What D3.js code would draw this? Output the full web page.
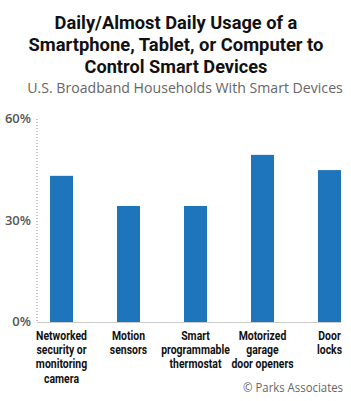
<!DOCTYPE html>
<html>
<head>
<meta charset="utf-8">
<script src="https://cdn.jsdelivr.net/npm/d3@7"></script>
<style>
  body { margin: 0; background: #fff; }
  svg { display: block; }
</style>
</head>
<body>
<div id="chart"></div>
<script>
// chart data
const categories = [
  ["Networked", "security or", "monitoring", "camera"],
  ["Motion", "sensors"],
  ["Smart", "programmable", "thermostat"],
  ["Motorized", "garage", "door openers"],
  ["Door", "locks"]
];
const values = [43.2, 34.3, 34.3, 49.4, 44.9];
const yTicks = [0, 30, 60];
const titleLines = [
  "Daily/Almost Daily Usage of a",
  "Smartphone, Tablet, or Computer to",
  "Control Smart Devices"
];
const subtitle = "U.S. Broadband Households With Smart Devices";
const credit = "\u00A9 Parks Associates";

const width = 351, height = 401;

const svg = d3.select("#chart")
  .append("svg")
  .attr("width", width)
  .attr("height", height);

// squeeze a text horizontally (condensed look) around its anchor point
function squeeze(textSel, cx, cy, k) {
  textSel.attr("x", 0).attr("y", 0)
    .attr("transform", `translate(${cx},${cy}) scale(${k},1)`);
}

// title block
const titleWidths = [243, 295, 183];
titleLines.forEach((t, i) => {
  const txt = svg.append("text")
    .attr("text-anchor", "middle")
    .attr("font-family", "Roboto, sans-serif")
    .attr("font-weight", "bold")
    .attr("font-size", 17.5)
    .attr("fill", "#111")
    .text(t);
  const k = titleWidths[i] / txt.node().getComputedTextLength();
  squeeze(txt, 176, 28.7 + i * 22.05, k);
});

const sub = svg.append("text")
  .attr("text-anchor", "middle")
  .attr("font-family", "'Open Sans', sans-serif")
  .attr("font-size", 14)
  .attr("fill", "#666")
  .text(subtitle);
squeeze(sub, 185, 93, 316 / sub.node().getComputedTextLength());

// scales
const x = d3.scaleBand()
  .domain(d3.range(values.length))
  .range([28, 363])
  .paddingInner(0.657)
  .paddingOuter(0.3285);

const y = d3.scaleLinear()
  .domain([0, 60])
  .range([322, 119]);

// dotted y axis
svg.append("line")
  .attr("x1", 37).attr("x2", 37)
  .attr("y1", y(60)).attr("y2", y(0))
  .attr("stroke", "#888")
  .attr("stroke-width", 1)
  .attr("stroke-dasharray", "1,2");

const yAxis = d3.axisLeft(y).tickValues(yTicks).tickSize(0).tickPadding(6)
  .tickFormat(d => d + "%");

const gy = svg.append("g")
  .attr("transform", "translate(37,0)")
  .call(yAxis);
gy.select(".domain").remove();
gy.selectAll("text")
  .attr("font-family", "'Open Sans', sans-serif")
  .attr("font-weight", "600")
  .attr("font-size", 13)
  .attr("fill", "#555")
  .attr("dy", "0.3em");

// bars
svg.append("g")
  .selectAll("rect")
  .data(values)
  .join("rect")
  .attr("x", (d, i) => x(i))
  .attr("y", d => y(d))
  .attr("width", x.bandwidth())
  .attr("height", d => y(0) - y(d))
  .attr("fill", "#1e75bb");

// baseline
svg.append("line")
  .attr("x1", 37).attr("x2", 341)
  .attr("y1", y(0) + 0.5).attr("y2", y(0) + 0.5)
  .attr("stroke", "#ccc")
  .attr("stroke-width", 1);

// category labels, narrowed like the original condensed face
const labels = svg.append("g")
  .selectAll("text")
  .data(categories)
  .join("text")
  .attr("text-anchor", "middle")
  .attr("font-family", "Roboto, sans-serif")
  .attr("font-weight", "bold")
  .attr("font-size", 12)
  .attr("fill", "#111");

labels.selectAll("tspan")
  .data(d => d)
  .join("tspan")
  .attr("x", 0)
  .attr("dy", (d, i) => i === 0 ? 0 : 14.2)
  .text(d => d);

// fit first label line ("Networked") to the reference width, reuse factor
const probe = labels.filter((d, i) => i === 0).select("tspan").node();
const kLab = 51 / probe.getComputedTextLength();
labels.attr("transform", (d, i) =>
  `translate(${x(i) + x.bandwidth() / 2},340) scale(${kLab},1)`);

// credit
const cr = svg.append("text")
  .attr("text-anchor", "end")
  .attr("font-family", "'Open Sans', sans-serif")
  .attr("font-size", 12)
  .attr("fill", "#666")
  .text(credit);
squeeze(cr, 343, 392, 100 / cr.node().getComputedTextLength());
</script>
</body>
</html>
